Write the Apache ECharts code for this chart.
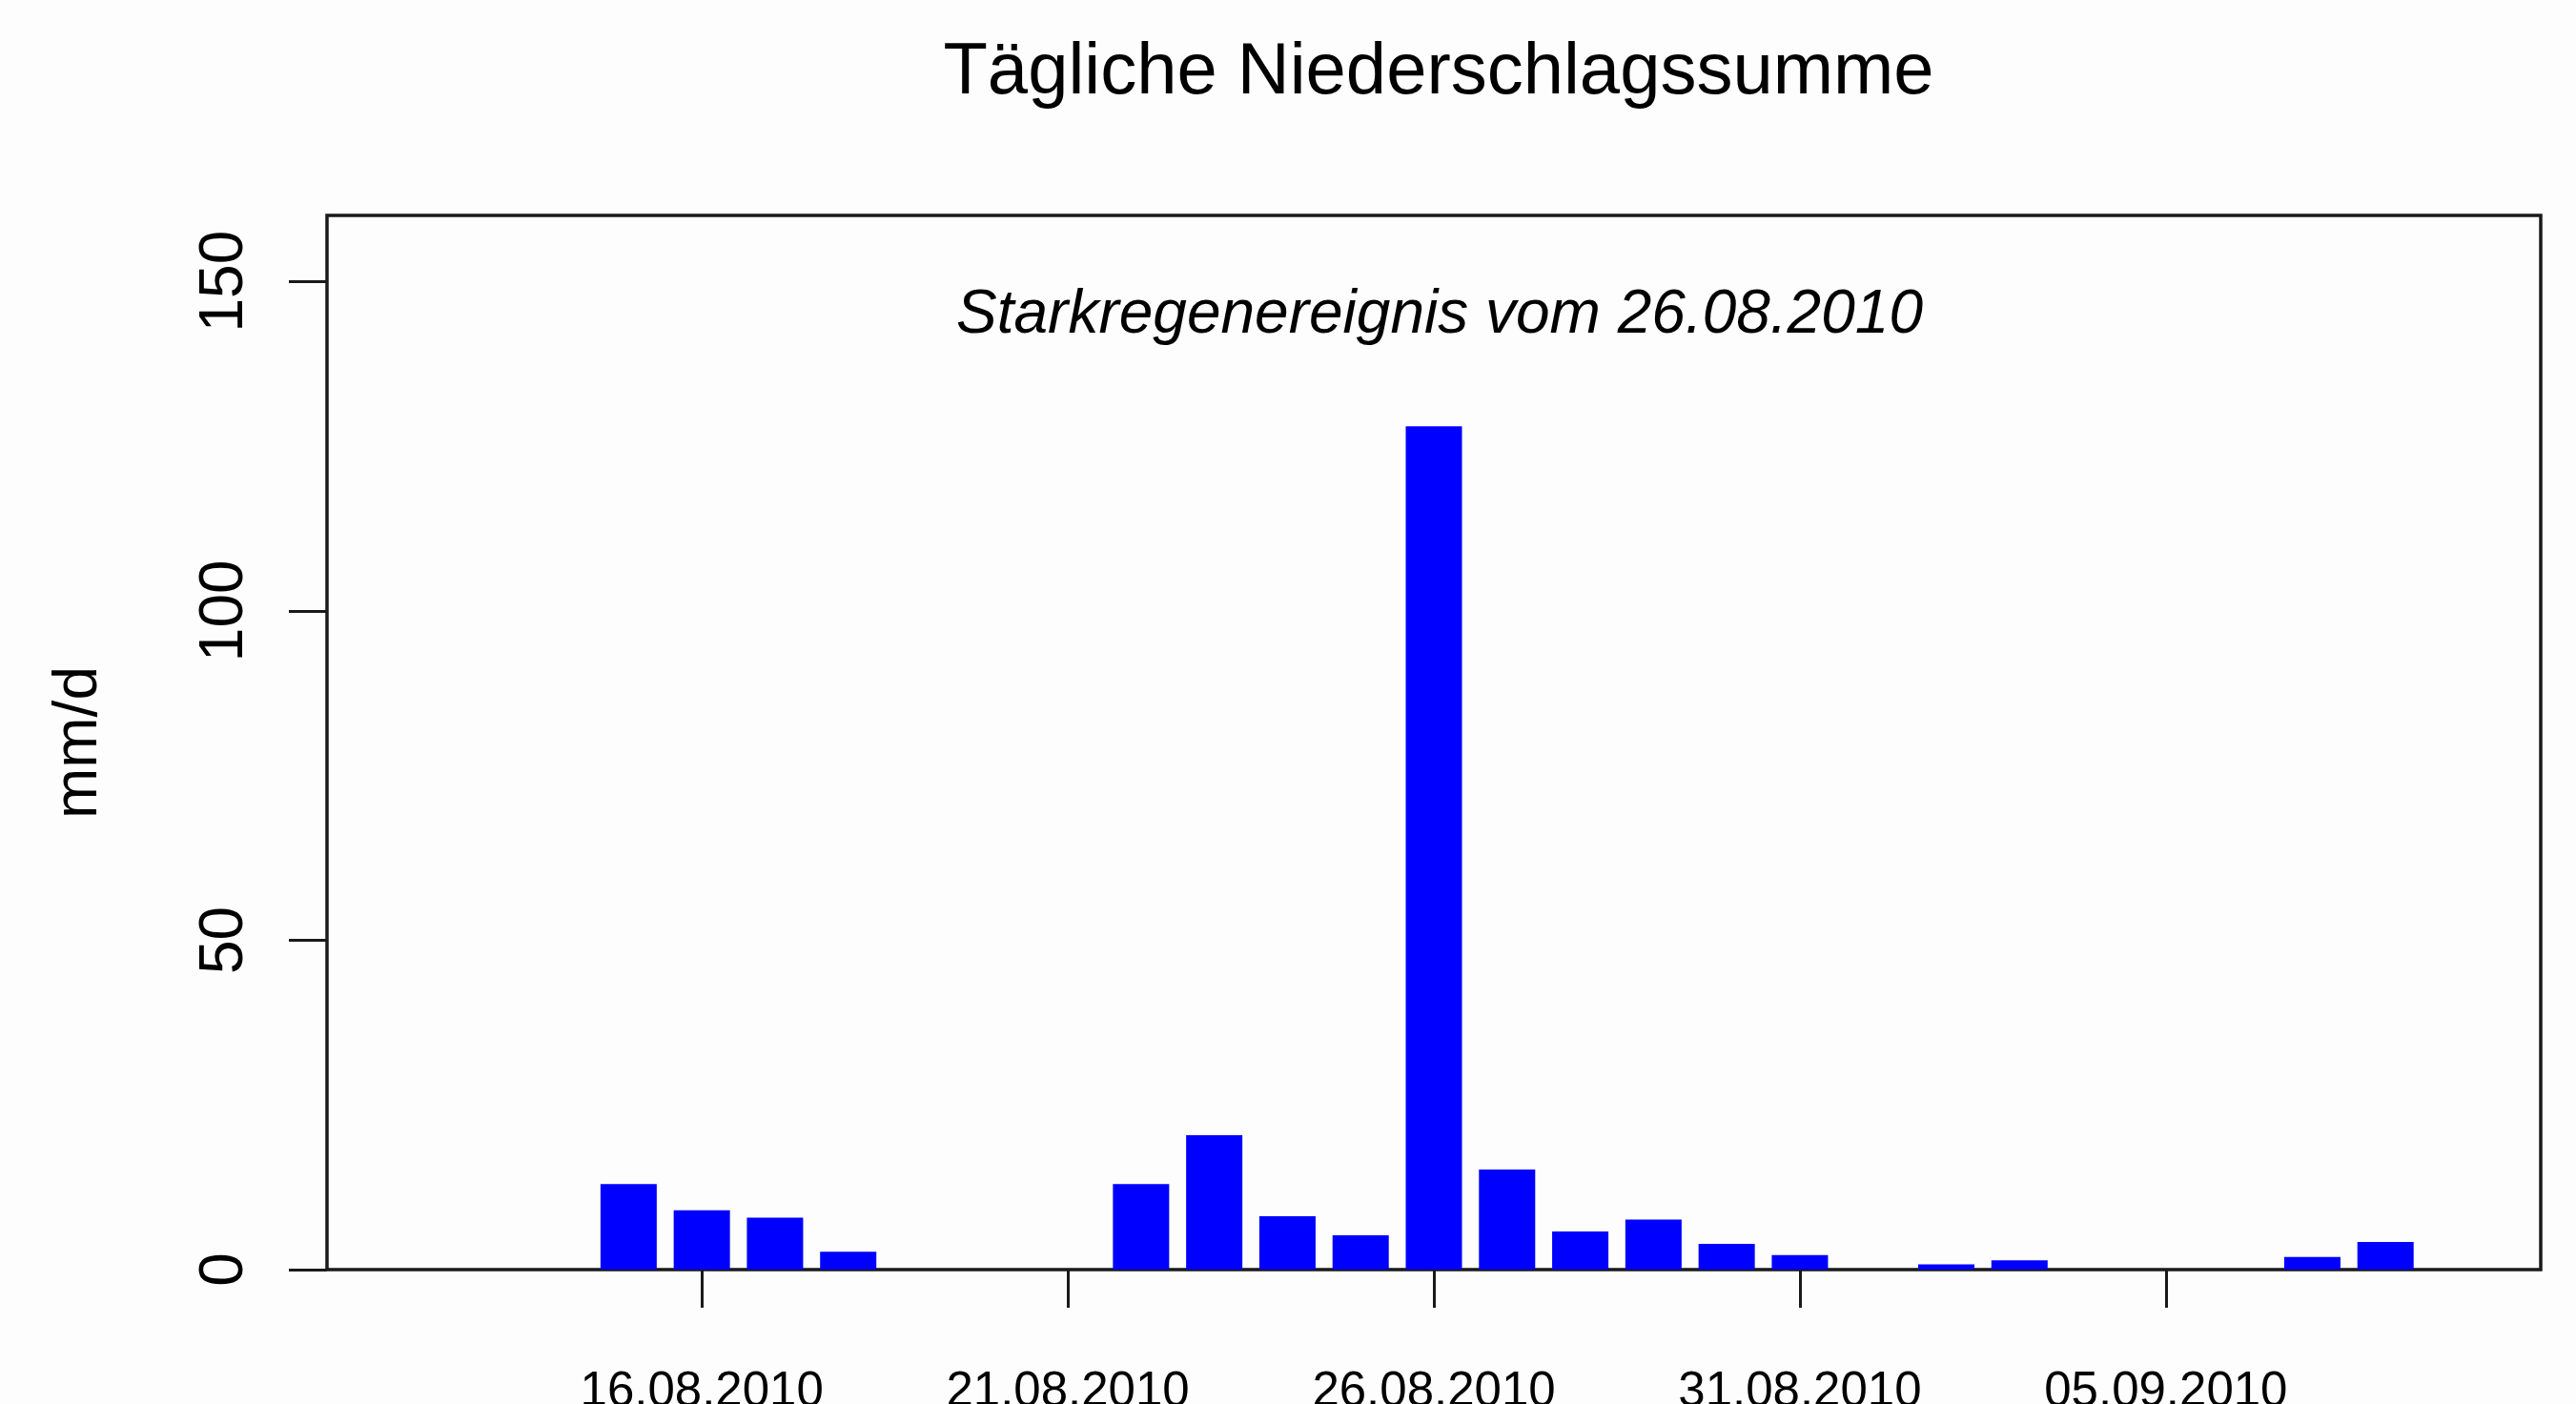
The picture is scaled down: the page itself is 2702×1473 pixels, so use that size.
<!DOCTYPE html>
<html>
<head>
<meta charset="utf-8">
<script src="https://cdn.jsdelivr.net/npm/echarts@6/dist/echarts.min.js"></script>
<style>
  html, body { margin: 0; padding: 0; background: #fdfdfd; }
  #main { width: 2702px; height: 1473px; }
</style>
</head>
<body>
<div id="main"></div>
<script>
// Tage (12.08.2010 - 09.09.2010)
var dates = [
  '12.08.2010', '13.08.2010', '14.08.2010', '15.08.2010', '16.08.2010', '17.08.2010', '18.08.2010',
  '19.08.2010', '20.08.2010', '21.08.2010', '22.08.2010', '23.08.2010', '24.08.2010', '25.08.2010',
  '26.08.2010', '27.08.2010', '28.08.2010', '29.08.2010', '30.08.2010', '31.08.2010', '01.09.2010',
  '02.09.2010', '03.09.2010', '04.09.2010', '05.09.2010', '06.09.2010', '07.09.2010', '08.09.2010',
  '09.09.2010'
];
// Niederschlag mm/d
var rain = [
  0, 0, 0, 13.0, 9.0, 7.9, 2.7,
  0, 0, 0, 13.0, 20.4, 8.1, 5.2,
  128, 15.2, 5.8, 7.6, 3.9, 2.2, 0,
  0.8, 1.4, 0, 0, 0, 1.9, 4.2,
  0
];
var xTickLabels = ['16.08.2010', '21.08.2010', '26.08.2010', '31.08.2010', '05.09.2010'];
var yTicks = [0, 50, 100, 150];

var font = 'Liberation Sans, Arial, sans-serif';
var xTickPos = xTickLabels.map(function (d) { return dates.indexOf(d); });

var myChart = echarts.init(document.getElementById('main'));
var option = {
  backgroundColor: '#fdfdfd',
  animation: false,
  title: [
    {
      text: 'Tägliche Niederschlagssumme',
      left: 1504,
      top: 34,
      textAlign: 'center',
      textStyle: { fontFamily: font, fontSize: 76, fontWeight: 'normal', color: '#000' }
    },
    {
      text: 'Starkregenereignis vom 26.08.2010',
      left: 1505,
      top: 294,
      textAlign: 'center',
      textStyle: { fontFamily: font, fontSize: 64, fontStyle: 'italic', fontWeight: 'normal', color: '#000' }
    }
  ],
  grid: {
    left: 343,
    right: 37,
    top: 226,
    bottom: 141,
    containLabel: false,
    outerBoundsMode: 'none',
    show: true,
    borderColor: '#1a1a1a',
    borderWidth: 3.5,
    backgroundColor: 'transparent'
  },
  xAxis: {
    type: 'value',
    min: -1.12,
    max: 29.12,
    axisLine: { show: false, onZero: false },
    splitLine: { show: false },
    axisTick: {
      show: true,
      length: 40,
      customValues: xTickPos,
      lineStyle: { color: '#1a1a1a', width: 3 }
    },
    axisLabel: {
      customValues: xTickPos,
      margin: 103,
      fontFamily: font,
      fontSize: 51,
      color: '#000',
      formatter: function (v) { return dates[Math.round(v)]; }
    }
  },
  yAxis: {
    type: 'value',
    min: 0,
    max: 160,
    name: 'mm/d',
    nameLocation: 'middle',
    nameRotate: 90,
    nameGap: 228,
    nameTextStyle: { fontFamily: font, fontSize: 64, color: '#000' },
    axisLine: { show: false, onZero: false },
    splitLine: { show: false },
    axisTick: {
      show: true,
      length: 40,
      customValues: yTicks,
      lineStyle: { color: '#1a1a1a', width: 3 }
    },
    axisLabel: {
      customValues: yTicks,
      rotate: 90,
      margin: 75,
      fontFamily: font,
      fontSize: 64,
      color: '#000'
    }
  },
  series: [{
    type: 'bar',
    data: rain.map(function (v, i) { return [i, v]; }),
    barWidth: 59,
    itemStyle: { color: '#0000ff' }
  }]
};
myChart.setOption(option);
window.onresize = myChart.resize;
</script>
</body>
</html>
